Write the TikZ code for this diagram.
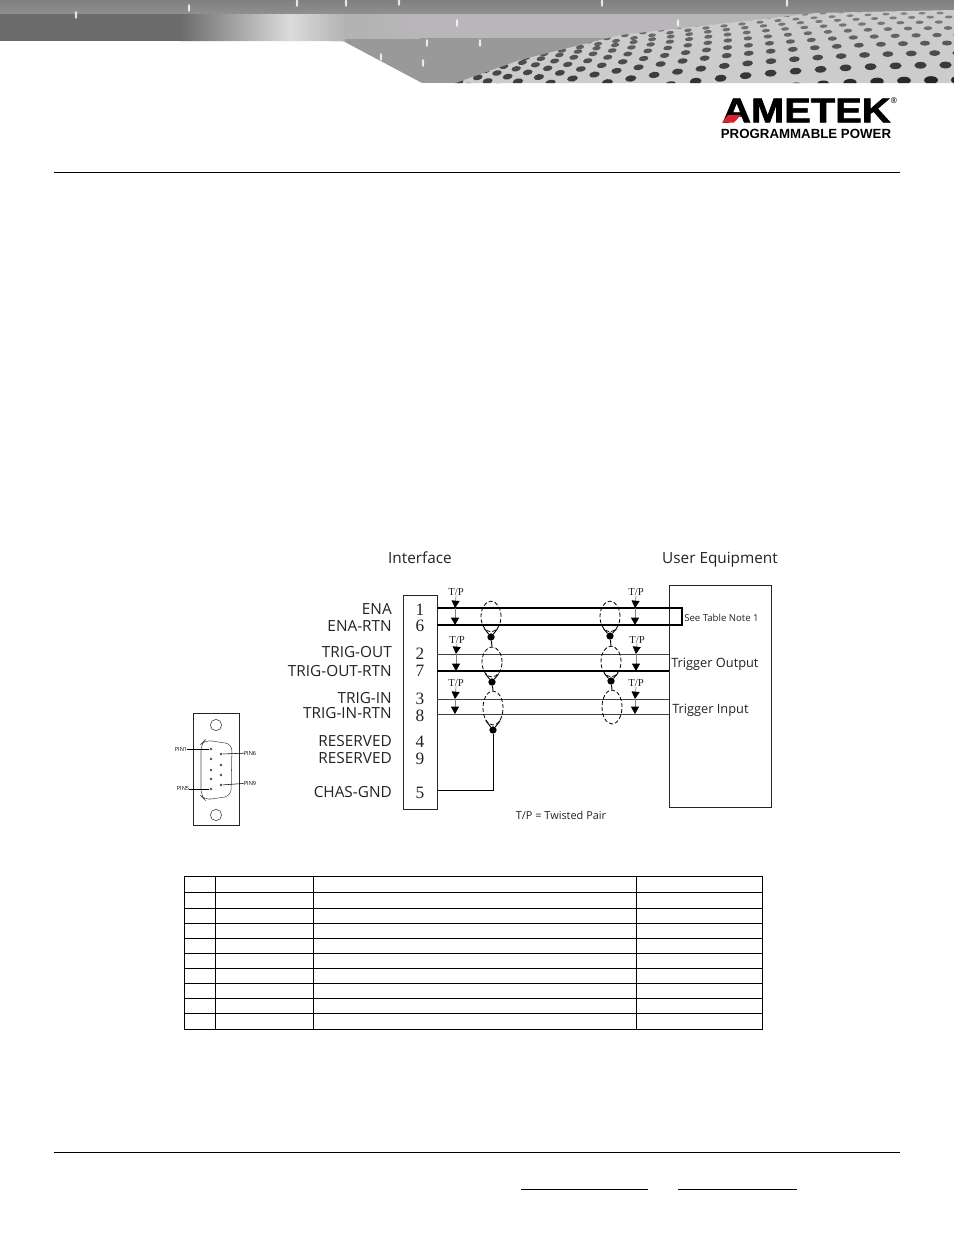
\documentclass[tikz,border=0pt]{standalone}
\usepackage{fontspec}
\setmainfont{Open Sans}
\newfontfamily\pinfont{Liberation Serif}
\newfontfamily\logofont[FakeBold=1.8]{Liberation Sans Bold}
\newfontfamily\subfont{Liberation Sans Bold}
\usetikzlibrary{arrows.meta,shapes.geometric}
\definecolor{inkgray}{HTML}{222222}
\definecolor{logored}{HTML}{D8232A}
\definecolor{bandgray}{HTML}{B9B6B9}
\tikzset{
  signal/.style={anchor=east,inner sep=0pt,text=inkgray,font=\fontsize{11.5}{12}\selectfont},
  pinnum/.style={inner sep=0pt,text=inkgray,font=\pinfont\fontsize{13}{14}\selectfont},
  tplabel/.style={inner sep=0pt,text=inkgray,font=\pinfont\fontsize{8}{9}\selectfont},
  tparrow/.style={draw=gray,line width=0.5pt,-{Triangle[length=5.5pt,width=6pt,color=black]}},
  twist/.style={ellipse,draw=black,dash pattern=on 3pt off 1.6pt,line width=0.6pt,inner sep=0pt,minimum width=15pt},
  joint/.style={circle,fill=black,inner sep=0pt,minimum size=5.5pt},
  thinwire/.style={line width=0.45pt,draw=black!75},
  thickwire/.style={line width=1pt,draw=black},
  boxline/.style={draw=black!85,line width=0.75pt},
  pinmark/.style={circle,fill=black!70,inner sep=0pt,minimum size=2pt},
  pintag/.style={inner sep=0pt,text=black,font=\fontsize{4.2}{5}\selectfont},
  titletext/.style={anchor=base,inner sep=0pt,text=inkgray,font=\fontsize{11.5}{12}\selectfont},
  boxtext/.style={anchor=base west,inner sep=0pt,text=inkgray,font=\fontsize{9.6}{10}\selectfont},
  tablerule/.style={draw=black,line width=0.75pt},
}
\begin{document}
\begin{tikzpicture}[x=0.75pt,y=-0.75pt]
\useasboundingbox (0,0) rectangle (954,1235);

% Banner
\begin{scope}
\clip (0,0) -- (954,0) -- (954,83) -- (422,83) -- (343,41) -- (0,41) -- cycle;
\fill[black!40] (330,38) rectangle (954,83);
\fill[black!58] (0,0) rectangle (180,41);
\shade[left color=black!58,right color=black!14] (180,13) rectangle (290,41);
\shade[left color=black!14,right color=black!30] (290,13) rectangle (345,41);
\shade[left color=black!30,right color=bandgray] (345,13) rectangle (420,38);
\fill[bandgray] (420,13) rectangle (954,38);
\shade[top color=black!50,bottom color=black!44] (0,0) rectangle (954,13);
\fill[black!20] (450,85) -- (520,60) -- (620,35) -- (816,13) -- (954,10) -- (954,85) -- cycle;
\clip (450,85) -- (520,60) -- (620,35) -- (816,13) -- (954,10) -- (954,85) -- cycle;
\foreach \k/\rowy in {0/80,1/65,2/53,3/43,4/35,5/28,6/22,7/17,8/13,9/9,10/6,11/3,12/1}{
  \pgfmathsetmacro\rowsp{18+9*max(\rowy-13,0)/67}
  \foreach \j in {0,...,30}{
    \pgfmathsetmacro\dotx{958-(\j+0.5*mod(\k,2))*\rowsp}
    \pgfmathsetmacro\doty{\rowy+0.00024*(954-\dotx)*(954-\dotx)}
    \pgfmathsetmacro\dott{min(1,max((\doty-10)/70,0))}
    \pgfmathsetmacro\dotf{0.7+0.3*max(\dotx-450,0)/504}
    \pgfmathsetmacro\dotrx{(3.5+3.5*\dott)*\dotf}
    \pgfmathsetmacro\dotry{(1.2+2.8*\dott)*\dotf}
    \pgfmathsetmacro\dotink{int(48+38*\dott*\dotf)}
    \pgfmathsetmacro\dotang{atan(0.00048*(954-\dotx))}
    \fill[black!\dotink,shift={(\dotx,\doty)},rotate=\dotang] (0,0) ellipse [x radius=\dotrx,y radius=\dotry];
  }
}
\end{scope}
\foreach \sx/\sy in {76/15,189/8,297/3,346/3,399/2,602/3,787/3,457/23,678/23,427/43,480/43,423/63,381/57}{
  \fill[white,opacity=0.8] (\sx,\sy) ellipse [x radius=1.2,y radius=4];
}

% Logo
\node[inner sep=0pt,anchor=west] (logotext) at (722,110.5) {\scalebox{1.15}[1]{\logofont\fontsize{26}{27}\selectfont AMETEK}};
\fill[logored] (722,122.5) -- (728,115) -- (741,115) -- (734,122.5) -- cycle;
\node[inner sep=0pt,font=\fontsize{6}{7}\selectfont] (logoreg) at (894,101) {®};
\node[inner sep=0pt] (logosub) at (806,133.5) {\subfont\fontsize{9.95}{10}\selectfont PROGRAMMABLE POWER};

% Page rules
\coordinate (headl) at (54,172);
\coordinate (headr) at (900,172);
\coordinate (footl) at (54,1152);
\coordinate (footr) at (900,1152);
\draw[line width=0.75pt] (headl) -- (headr);
\draw[line width=0.75pt] (footl) -- (footr);
\coordinate (linka) at (521,1189);
\coordinate (linkb) at (648,1189);
\coordinate (linkc) at (678,1189);
\coordinate (linkd) at (797,1189);
\draw[line width=0.6pt] (linka) -- (linkb);
\draw[line width=0.6pt] (linkc) -- (linkd);

% Connector plate
\node[boxline,minimum width=34.5pt,minimum height=84pt,inner sep=0pt] (plate) at (216,769) {};
\node[draw=black!80,circle,line width=0.4pt,minimum size=8.5pt,inner sep=0pt] (holea) at (216,725) {};
\node[draw=black!80,circle,line width=0.4pt,minimum size=8.5pt,inner sep=0pt] (holeb) at (216,815) {};
\draw[black!70,line width=0.4pt,rounded corners=5pt] (205,740) -- (232,744) -- (231,796) -- (205,800) -- (201,796) -- (201,744) -- cycle;
\foreach \n/\px/\py in {a/211/749,b/211/759,c/211/770,d/211/779,e/211/789,f/221/754,g/221/765,h/221/775,i/221/785}{
  \node[pinmark] (pin\n) at (\px,\py) {};
}
\node[pintag] (tagone) at (181,749) {PIN1};
\node[pintag] (tagfive) at (183,789) {PIN5};
\node[pintag] (tagsix) at (250,753) {PIN6};
\node[pintag] (tagnine) at (250,783) {PIN9};
\draw[line width=0.4pt] (tagone) -- (pina);
\draw[line width=0.4pt] (tagfive) -- (pine);
\draw[line width=0.4pt] (pinf) -- (tagsix);
\draw[line width=0.4pt] (pini) -- (tagnine);

% Titles
\node[titletext] (ifacetitle) at (420,563) {Interface};
\node[titletext] (usertitle) at (720,563) {User Equipment};

% Interface and user boxes
\node[boxline,minimum width=25.5pt,minimum height=160.5pt,inner sep=0pt] (iface) at (420,702) {};
\node[boxline,minimum width=77pt,minimum height=167pt,inner sep=0pt] (user) at (720.5,696.5) {};

% Signals and pin numbers
\foreach \name/\txt/\num/\ty/\ny in {ena/ENA/1/609/609.5,enartn/ENA-RTN/6/626/625.5,
  trigout/TRIG-OUT/2/652/654,trigoutrtn/TRIG-OUT-RTN/7/671/671,
  trigin/TRIG-IN/3/698/699,triginrtn/TRIG-IN-RTN/8/713/715.5,
  resa/RESERVED/4/741/741.5,resb/RESERVED/9/758/758.5,chas/CHAS-GND/5/792/793}{
  \node[signal] (sig\name) at (392,\ty) {\txt};
  \node[pinnum] (num\name) at (420,\ny) {\num};
}

% Wires
\foreach \name/\wy in {ena/608,enartn/625,trigout/654,trigoutrtn/671,trigin/699,triginrtn/714}{
  \coordinate (from\name) at (437,\wy);
  \coordinate (to\name) at (669,\wy);
}
\coordinate (loopa) at (682,608);
\coordinate (loopb) at (682,625);
\coordinate (fromchas) at (437,790);
\draw[thickwire] (fromena) -- (loopa) -- (loopb) -- (fromenartn);
\draw[thinwire] (fromtrigout) -- (totrigout);
\draw[thickwire] (fromtrigoutrtn) -- (totrigoutrtn);
\draw[thinwire] (fromtrigin) -- (totrigin);
\draw[thinwire] (fromtriginrtn) -- (totriginrtn);

% Twisted pair rings
\node[twist,minimum height=23pt] (twa) at (491,616.5) {};
\node[twist,minimum height=22.5pt] (twb) at (492,662) {};
\node[twist,minimum height=25.5pt] (twc) at (493,708) {};
\node[twist,minimum height=23pt] (twd) at (610,616.5) {};
\node[twist,minimum height=23pt] (twe) at (611,661.5) {};
\node[twist,minimum height=25.5pt] (twf) at (612,707) {};
\node[joint] (ja) at (491,637) {};
\node[joint] (jb) at (492,682) {};
\node[joint] (jc) at (493,730) {};
\node[joint] (jd) at (610,636) {};
\node[joint] (je) at (611,681) {};
\foreach \ring/\dot in {twa/ja,twb/jb,twc/jc,twd/jd,twe/je}{
  \draw[line width=0.7pt] (\dot) -- (\ring.240);
  \draw[line width=0.7pt] (\dot) -- (\ring.300);
}
\foreach \dot/\ring in {ja/twb,jb/twc,jd/twe,je/twf}{
  \draw[line width=0.7pt] (\dot) -- (\ring.north);
}
\draw[line width=0.75pt] (jc) |- (fromchas);

% T/P arrows
\foreach \name/\tx/\ty/\ax/\ya/\yb in {tpa/456/592/455/608/625,tpb/457/640/456/654/671,tpc/456/683/455/699/714,
  tpd/636/592/635/608/625,tpe/637/640/636/654/671,tpf/636/683/635/699/714}{
  \node[tplabel] (\name) at (\tx,\ty) {T/P};
  \coordinate (\name x) at (\ax,\ya);
  \coordinate (\name y) at (\ax,\yb);
  \draw[tparrow] (\name.south) -- (\name x);
  \draw[tparrow] (\name x) -- (\name y);
}

% Notes
\node[boxtext,font=\fontsize{7.2}{8}\selectfont] (notelbl) at (684,621.5) {See Table Note 1};
\node[boxtext] (outlbl) at (671,667.5) {Trigger Output};
\node[boxtext] (inlbl) at (672,713) {Trigger Input};
\node[anchor=base,inner sep=0pt,text=inkgray,font=\fontsize{8.2}{9}\selectfont] (tpnote) at (561,819.5) {T/P = Twisted Pair};

% Table
\draw[tablerule] (184,876) rectangle (762,1029);
\foreach \ry in {892,908,923,938,953,968,983,998,1013}{
  \draw[tablerule] (184,\ry) -- (762,\ry);
}
\foreach \cx in {215,313,636}{
  \draw[tablerule] (\cx,876) -- (\cx,1029);
}
\end{tikzpicture}
\end{document}
